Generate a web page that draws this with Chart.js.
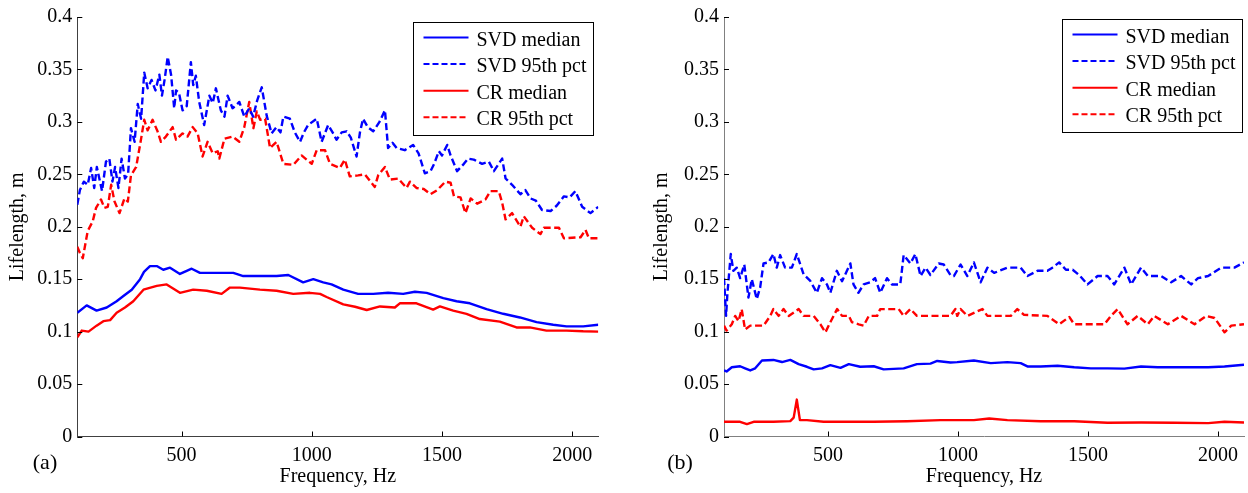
<!DOCTYPE html>
<html><head><meta charset="utf-8">
<script src="https://cdn.jsdelivr.net/npm/chart.js@4/dist/chart.umd.min.js"></script>
<style>
html,body{margin:0;padding:0;background:#fff;width:1248px;height:493px;overflow:hidden;}
#wa{position:absolute;left:0;top:0;width:624px;height:493px;}
#wb{position:absolute;left:640px;top:0;width:608px;height:493px;}
</style></head><body>
<div id="wa"><canvas id="ca"></canvas></div>
<div id="wb"><canvas id="cb"></canvas></div>
<script>
// ---------- tick labels ----------
const xTicks = [500, 1000, 1500, 2000];
const yTicks = [0, 0.05, 0.1, 0.15, 0.2, 0.25, 0.3, 0.35, 0.4];
const yTickLabels = ['0', '0.05', '0.1', '0.15', '0.2', '0.25', '0.3', '0.35', '0.4'];
const seriesNames = ['SVD median', 'SVD 95th pct', 'CR median', 'CR 95th pct'];

// ---------- panel (a) ----------
const aSvdMedF = [100,136,174,213,251,277,309,341,356,379,405,430,456,494,520,539,571,622,699,737,801,865,910,967,1006,1044,1076,1121,1178,1236,1293,1351,1396,1441,1505,1556,1607,1671,1735,1799,1863,1927,1978,2042,2100];
const aSvdMed  = [0.118,0.125,0.120,0.123,0.129,0.134,0.140,0.150,0.157,0.1625,0.1625,0.159,0.161,0.155,0.158,0.160,0.156,0.156,0.156,0.153,0.153,0.153,0.154,0.147,0.150,0.147,0.145,0.140,0.136,0.136,0.137,0.136,0.138,0.137,0.132,0.129,0.127,0.1215,0.117,0.1135,0.109,0.1066,0.105,0.105,0.1066];

const aSvd95F = [100,110,125,140,153,165,175,195,210,223,235,245,258,270,283,295,306,320,332,345,357,370,385,400,415,425,435,447,460,472,479,490,504,520,536,545,555,568,587,600,607,620,632,651,665,677,696,710,722,741,760,775,790,808,827,846,865,880,891,916,935,955,970,986,1019,1038,1063,1080,1095,1115,1134,1150,1172,1185,1197,1215,1236,1260,1281,1293,1310,1326,1357,1389,1410,1434,1456,1470,1488,1500,1520,1533,1558,1584,1600,1622,1654,1680,1699,1731,1744,1769,1801,1820,1840,1860,1884,1917,1940,1968,1990,2012,2038,2070,2100];
const aSvd95  = [0.221,0.235,0.243,0.240,0.256,0.237,0.257,0.234,0.262,0.265,0.243,0.257,0.237,0.265,0.246,0.250,0.294,0.281,0.317,0.303,0.347,0.332,0.340,0.330,0.345,0.325,0.340,0.362,0.345,0.313,0.330,0.328,0.311,0.315,0.357,0.335,0.344,0.319,0.297,0.315,0.325,0.318,0.332,0.311,0.305,0.325,0.313,0.316,0.319,0.305,0.313,0.305,0.320,0.333,0.306,0.289,0.295,0.290,0.305,0.303,0.290,0.281,0.290,0.297,0.303,0.281,0.297,0.290,0.283,0.290,0.291,0.285,0.267,0.290,0.303,0.295,0.291,0.300,0.311,0.275,0.280,0.275,0.273,0.278,0.270,0.251,0.253,0.260,0.272,0.268,0.278,0.268,0.253,0.260,0.265,0.264,0.260,0.262,0.253,0.265,0.246,0.240,0.231,0.235,0.227,0.225,0.216,0.215,0.220,0.229,0.228,0.234,0.219,0.213,0.219];

const aCrMedF = [100,117,143,174,200,226,251,283,315,354,405,443,494,545,597,654,686,724,801,865,929,993,1032,1057,1121,1166,1211,1262,1319,1338,1402,1466,1492,1543,1594,1645,1722,1786,1837,1901,1978,2042,2100];
const aCrMed  = [0.0946,0.101,0.100,0.1057,0.110,0.111,0.118,0.123,0.129,0.140,0.1436,0.145,0.137,0.140,0.139,0.136,0.142,0.142,0.140,0.139,0.136,0.137,0.136,0.133,0.126,0.1237,0.1206,0.124,0.123,0.127,0.127,0.121,0.124,0.120,0.117,0.112,0.1095,0.104,0.104,0.101,0.101,0.1003,0.100];

const aCr95F = [100,110,121,140,159,172,191,204,217,230,243,262,281,294,306,326,345,357,370,389,408,421,440,466,479,504,523,543,562,581,600,620,639,645,665,696,722,741,760,776,789,802,821,840,865,891,929,961,1000,1019,1051,1070,1108,1127,1146,1178,1204,1242,1255,1281,1300,1332,1364,1377,1402,1430,1456,1482,1513,1533,1546,1571,1590,1610,1635,1667,1686,1718,1731,1744,1769,1801,1814,1846,1878,1891,1949,1968,2032,2051,2064,2100];
const aCr95  = [0.181,0.175,0.170,0.196,0.205,0.218,0.226,0.218,0.219,0.240,0.224,0.213,0.227,0.224,0.249,0.257,0.284,0.302,0.292,0.302,0.291,0.281,0.286,0.295,0.283,0.289,0.286,0.295,0.289,0.267,0.281,0.270,0.272,0.265,0.284,0.286,0.281,0.295,0.319,0.294,0.310,0.302,0.303,0.275,0.281,0.260,0.259,0.268,0.260,0.273,0.273,0.260,0.256,0.264,0.248,0.249,0.250,0.238,0.249,0.257,0.245,0.246,0.237,0.243,0.237,0.236,0.231,0.235,0.243,0.242,0.229,0.228,0.213,0.227,0.222,0.226,0.234,0.234,0.223,0.207,0.213,0.200,0.210,0.199,0.193,0.199,0.199,0.189,0.190,0.197,0.189,0.189];

// ---------- panel (b) ----------
const bSvdMedF = [100,110,130,162,181,201,220,246,290,323,355,387,419,445,477,509,548,580,624,676,714,791,842,894,920,971,997,1061,1126,1190,1241,1267,1318,1383,1447,1511,1575,1640,1704,1768,1833,1897,1962,2025,2100];
const bSvdMed  = [0.063,0.062,0.066,0.067,0.065,0.063,0.065,0.0725,0.073,0.071,0.073,0.069,0.0665,0.064,0.065,0.068,0.0655,0.069,0.0665,0.067,0.064,0.065,0.069,0.0695,0.072,0.0705,0.0709,0.0725,0.070,0.0709,0.070,0.0668,0.0668,0.0675,0.066,0.065,0.065,0.0647,0.0668,0.066,0.066,0.066,0.066,0.0668,0.0684];

const bSvd95F = [100,108,113,126,136,149,162,178,194,207,226,239,252,271,290,303,316,335,361,380,406,432,457,477,496,509,534,554,586,598,617,637,662,681,701,727,746,778,791,817,836,856,875,894,926,945,971,984,1010,1036,1061,1087,1113,1139,1190,1241,1267,1306,1344,1363,1389,1415,1441,1466,1498,1537,1575,1601,1640,1666,1704,1730,1781,1820,1858,1897,1923,1962,2012,2063,2100];
const bSvd95  = [0.151,0.115,0.136,0.174,0.158,0.161,0.151,0.164,0.1325,0.150,0.131,0.142,0.165,0.166,0.174,0.161,0.173,0.161,0.161,0.174,0.1547,0.1483,0.137,0.151,0.145,0.137,0.158,0.148,0.165,0.145,0.137,0.145,0.147,0.151,0.137,0.151,0.145,0.145,0.173,0.165,0.174,0.153,0.161,0.154,0.165,0.164,0.154,0.153,0.164,0.153,0.166,0.147,0.161,0.156,0.161,0.161,0.153,0.158,0.158,0.161,0.166,0.159,0.159,0.154,0.145,0.153,0.153,0.145,0.161,0.145,0.161,0.153,0.153,0.147,0.153,0.145,0.151,0.153,0.161,0.161,0.166];

const bCrMedF = [100,162,188,214,290,355,368,380,392,419,483,548,676,804,933,997,1061,1120,1190,1318,1447,1575,1704,1833,1962,2025,2100];
const bCrMed  = [0.014,0.014,0.0118,0.014,0.014,0.0147,0.018,0.0352,0.0156,0.0156,0.014,0.014,0.014,0.0146,0.0156,0.0156,0.0156,0.0172,0.0156,0.0146,0.0146,0.0131,0.0134,0.0131,0.0128,0.014,0.0134];

const bCr95F = [100,110,130,143,156,168,181,201,252,278,290,310,329,349,387,406,445,471,490,509,535,554,580,592,618,637,657,689,701,772,791,817,842,971,990,997,1010,1036,1094,1113,1203,1228,1254,1344,1389,1428,1447,1563,1588,1614,1652,1691,1730,1755,1807,1858,1910,1955,1987,2012,2025,2051,2100];
const bCr95  = [0.1057,0.101,0.107,0.115,0.110,0.1215,0.102,0.1057,0.1057,0.115,0.1215,0.115,0.1215,0.115,0.1215,0.115,0.115,0.107,0.0993,0.109,0.1215,0.115,0.115,0.109,0.107,0.1057,0.115,0.115,0.1215,0.1215,0.115,0.1215,0.115,0.115,0.1215,0.115,0.1215,0.115,0.1215,0.115,0.115,0.1215,0.116,0.115,0.107,0.114,0.107,0.107,0.115,0.1215,0.107,0.115,0.107,0.115,0.107,0.115,0.107,0.115,0.113,0.104,0.0993,0.1057,0.107];

// ---------- styling ----------
const FONT = '"Liberation Serif", "Times New Roman", Times, serif';
const BLUE = '#0000ff', RED = '#ff0000';
const DASH = [7, 3.5];
const LW = 2.4;

function pts(f, v) { return f.map((x, i) => ({ x: x, y: v[i] })); }

function makeDatasets(sm, smF, s95, s95F, cm, cmF, c95, c95F) {
  const base = { borderWidth: LW, pointRadius: 0, tension: 0, fill: false, borderJoinStyle: 'round' };
  return [
    Object.assign({ label: seriesNames[0], data: pts(smF, sm), borderColor: BLUE }, base),
    Object.assign({ label: seriesNames[1], data: pts(s95F, s95), borderColor: BLUE, borderDash: DASH }, base),
    Object.assign({ label: seriesNames[2], data: pts(cmF, cm), borderColor: RED }, base),
    Object.assign({ label: seriesNames[3], data: pts(c95F, c95), borderColor: RED, borderDash: DASH }, base)
  ];
}

const decor = {
  id: 'decor',
  afterDraw(chart, args, o) {
    const ctx = chart.ctx, ca = chart.chartArea;
    const xs = chart.scales.x, ys = chart.scales.y;
    ctx.save();
    // inward ticks
    ctx.strokeStyle = '#000'; ctx.lineWidth = 1;
    ctx.beginPath();
    xTicks.forEach(v => { const p = Math.round(xs.getPixelForValue(v)) + 0.5; ctx.moveTo(p, ca.bottom); ctx.lineTo(p, ca.bottom - 5); });
    yTicks.forEach(v => { const p = Math.round(ys.getPixelForValue(v)) + 0.5; ctx.moveTo(ca.left, p); ctx.lineTo(ca.left + 5, p); });
    ctx.stroke();
    // legend box
    const bw = 180, bh = 113;
    const bx = Math.round(ca.right - o.inset - bw) + 0.5, by = Math.round(ca.top + o.inset) + 0.5;
    ctx.fillStyle = '#fff'; ctx.fillRect(bx, by, bw, bh);
    ctx.strokeStyle = '#000'; ctx.lineWidth = 1; ctx.strokeRect(bx, by, bw, bh);
    chart.data.datasets.forEach((d, i) => {
      const cy = by + 15 + i * 26.6;
      ctx.beginPath(); ctx.strokeStyle = d.borderColor; ctx.lineWidth = 2;
      ctx.setLineDash(d.borderDash ? [6, 3] : []);
      ctx.moveTo(bx + 10, cy); ctx.lineTo(bx + 55, cy); ctx.stroke();
      ctx.setLineDash([]);
      ctx.fillStyle = '#000'; ctx.font = '20px ' + FONT;
      ctx.textAlign = 'left'; ctx.textBaseline = 'alphabetic';
      ctx.fillText(d.label, bx + 63, cy + 8);
    });
    // axis titles
    ctx.fillStyle = '#000'; ctx.font = '20px ' + FONT;
    ctx.textAlign = 'center'; ctx.textBaseline = 'alphabetic';
    ctx.fillText('Frequency, Hz', (ca.left + ca.right) / 2, 482);
    ctx.save();
    ctx.translate(o.yTitleX, (ca.top + ca.bottom) / 2);
    ctx.rotate(-Math.PI / 2);
    ctx.textBaseline = 'middle';
    ctx.fillText('Lifelength, m', 0, 0);
    ctx.restore();
    // panel label
    ctx.font = '22px ' + FONT; ctx.textBaseline = 'middle';
    ctx.fillText(o.panel, o.panelX, 463);
    ctx.restore();
  }
};

function makeChart(id, datasets, cfg) {
  return new Chart(document.getElementById(id), {
    type: 'line',
    data: { datasets: datasets },
    options: {
      responsive: true, maintainAspectRatio: false, animation: false,
      layout: { padding: { left: 0, top: 14.5, right: cfg.padRight, bottom: 0 } },
      plugins: { legend: { display: false }, tooltip: { enabled: false }, decor: cfg.decor },
      scales: {
        x: {
          type: 'linear', min: 100, max: 2100,
          afterFit: s => { s.height = 56.5; },
          afterBuildTicks: s => { s.ticks = xTicks.map(v => ({ value: v })); },
          grid: { display: false, drawTicks: false },
          border: { display: true, color: cfg.axisColor, width: 1 },
          ticks: { color: '#000', font: { family: FONT, size: 20 }, padding: 7, maxRotation: 0, autoSkip: false,
                   callback: v => String(v) }
        },
        y: {
          type: 'linear', min: 0, max: 0.4,
          afterFit: s => { s.width = cfg.yWidth; },
          afterBuildTicks: s => { s.ticks = yTicks.map(v => ({ value: v })); },
          grid: { display: false, drawTicks: false },
          border: { display: true, color: cfg.axisColor, width: 1 },
          ticks: { color: '#000', font: { family: FONT, size: 20 }, padding: 5, autoSkip: false,
                   callback: v => { const i = yTicks.findIndex(t => Math.abs(t - v) < 1e-9); return i >= 0 ? yTickLabels[i] : ''; } }
        }
      }
    },
    plugins: [decor]
  });
}

makeChart('ca', makeDatasets(aSvdMed, aSvdMedF, aSvd95, aSvd95F, aCrMed, aCrMedF, aCr95, aCr95F),
  { padRight: 25.7, yWidth: 77.3, axisColor: '#404040', decor: { inset: 5, yTitleX: 18, panel: '(a)', panelX: 45 } });
makeChart('cb', makeDatasets(bSvdMed, bSvdMedF, bSvd95, bSvd95F, bCrMed, bCrMedF, bCr95, bCr95F),
  { padRight: 4, yWidth: 84, axisColor: '#808080', decor: { inset: 2, yTitleX: 22, panel: '(b)', panelX: 40 } });
</script>
</body></html>
